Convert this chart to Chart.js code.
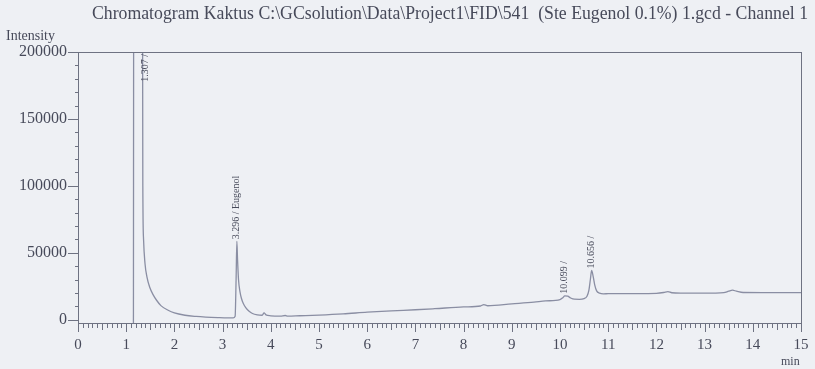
<!DOCTYPE html>
<html>
<head>
<meta charset="utf-8">
<script src="https://cdn.jsdelivr.net/npm/chart.js@4.4.0/dist/chart.umd.min.js"></script>
<style>
  body { margin: 0; background: #eef0f4; }
  #chart { display: block; }
</style>
</head>
<body>
<canvas id="chart" width="815" height="369"></canvas>
<script>
// retention time (min) and detector signal
const times = [
  1.15, 1.16, 1.33, 1.345, 1.36, 1.39, 1.43, 1.49, 1.56, 1.63, 1.72, 1.87, 2.0, 2.22, 2.45, 2.65, 2.9, 3.1, 3.22,
  3.26, 3.28, 3.296, 3.31, 3.33, 3.36, 3.39, 3.43, 3.48, 3.55, 3.62, 3.72, 3.82, 3.86, 3.9, 4.0, 4.2, 4.3, 4.35,
  4.6, 5.0, 5.5, 6.0, 6.5, 7.0, 7.4, 8.0, 8.35, 8.42, 8.5, 9.0, 9.46, 9.7, 10.0, 10.06, 10.099, 10.16, 10.22,
  10.3, 10.4, 10.5, 10.56, 10.6, 10.63, 10.656, 10.69, 10.72, 10.76, 10.82, 10.9, 11.0, 11.5, 12.0, 12.15,
  12.24, 12.32, 12.5, 13.0, 13.4, 13.5, 13.58, 13.66, 13.8, 14.2, 15.0
];
const intensity = [
  -2500, 420000, 420000, 100000, 60000, 42000, 32000, 24000, 18500, 14500, 10500, 7000, 5000, 3300, 2400, 1900, 1500, 1300, 1300,
  2500, 30000, 58500, 45000, 30000, 21000, 16000, 12000, 9000, 6300, 4600, 3600, 3300, 5000, 3600, 2900, 2600, 3100, 2600,
  2900, 3400, 4300, 5600, 6600, 7400, 8200, 9500, 10200, 11300, 10400, 11800, 13100, 14000, 15000, 16400, 17800, 17500, 16200,
  15300, 15200, 15700, 17500, 22000, 30000, 36800, 32000, 26000, 21500, 19800, 19300, 19400, 19500, 19700, 20300,
  21000, 20100, 19800, 19800, 20200, 21300, 22000, 21300, 20300, 20200, 20200
];

const xTicks = [0, 1, 2, 3, 4, 5, 6, 7, 8, 9, 10, 11, 12, 13, 14, 15];
const yTicks = [0, 50000, 100000, 150000, 200000];

const peakTimes = [1.307, 3.296, 10.099, 10.656];
const peakValues = [420000, 58500, 17800, 36800];
const peakNames = ['1.307 /', '3.296 / Eugenol', '10.099 /', '10.656 /'];

const titleText = 'Chromatogram Kaktus C:\\GCsolution\\Data\\Project1\\FID\\541  (Ste Eugenol 0.1%) 1.gcd - Channel 1';

const inkColor = '#474a5a';
const axisColor = '#6e7282';
const traceColor = '#8a8ea3';
const serif = "'Liberation Serif', 'DejaVu Serif', serif";

const chromPlugin = {
  id: 'chrom',
  afterDraw(chart) {
    const ctx = chart.ctx;
    const a = chart.chartArea;
    const xs = chart.scales.x;
    const ys = chart.scales.y;

    ctx.save();
    ctx.strokeStyle = axisColor;
    ctx.lineWidth = 1;
    ctx.strokeRect(Math.round(a.left) + 0.5, Math.round(a.top) + 0.5,
      Math.round(a.right - a.left), Math.round(a.bottom - a.top));

    ctx.beginPath();
    // intensity ticks, minor every 10000
    for (let v = 0; v <= 200000; v += 10000) {
      const py = Math.round(ys.getPixelForValue(v)) + 0.5;
      const len = v % 50000 === 0 ? 10 : 3;
      ctx.moveTo(a.left - len, py);
      ctx.lineTo(a.left, py);
    }
    // time ticks, minor every 0.1 min
    for (let i = 0; i <= 150; i++) {
      const px = Math.round(xs.getPixelForValue(i / 10)) + 0.5;
      const len = i % 10 === 0 ? 9 : (i % 5 === 0 ? 7 : 5);
      ctx.moveTo(px, a.bottom);
      ctx.lineTo(px, a.bottom + len);
    }
    ctx.stroke();

    ctx.fillStyle = inkColor;

    // title, squeezed like the printout
    ctx.font = '19px ' + serif;
    ctx.textBaseline = 'middle';
    ctx.textAlign = 'left';
    const w = ctx.measureText(titleText).width;
    ctx.save();
    ctx.translate(92, 14);
    ctx.scale(716 / w, 1);
    ctx.fillText(titleText, 0, 0);
    ctx.restore();

    ctx.font = '14px ' + serif;
    ctx.fillText('Intensity', 6, 36);
    ctx.font = '12px ' + serif;
    ctx.fillText('min', 781, 362);

    // peak labels, vertical
    ctx.font = '10px ' + serif;
    peakTimes.forEach((t, i) => {
      const px = xs.getPixelForValue(t);
      ctx.save();
      if (peakValues[i] > ys.max) {
        ctx.translate(px + 4, a.top + 2);
        ctx.rotate(-Math.PI / 2);
        ctx.textAlign = 'right';
      } else {
        ctx.translate(px, ys.getPixelForValue(peakValues[i]) - 2);
        ctx.rotate(-Math.PI / 2);
        ctx.textAlign = 'left';
      }
      ctx.textBaseline = 'middle';
      ctx.fillText(peakNames[i], 0, 0);
      ctx.restore();
    });
    ctx.restore();
  }
};

new Chart(document.getElementById('chart'), {
  type: 'line',
  data: {
    datasets: [{
      data: times.map((t, i) => ({ x: t, y: intensity[i] })),
      borderColor: traceColor,
      borderWidth: 1.3,
      pointRadius: 0,
      cubicInterpolationMode: 'monotone',
      fill: false,
    }],
  },
  options: {
    responsive: false,
    animation: false,
    devicePixelRatio: 1,
    layout: { padding: { top: 52, right: 14, left: 0, bottom: 0 } },
    plugins: { legend: { display: false }, tooltip: { enabled: false } },
    scales: {
      x: {
        type: 'linear',
        min: 0,
        max: 15,
        grid: { display: false, drawTicks: false },
        border: { display: false },
        afterBuildTicks: s => { s.ticks = xTicks.map(v => ({ value: v })); },
        afterFit: s => { s.height = 46; },
        ticks: {
          autoSkip: false,
          maxRotation: 0,
          padding: 0,
          color: inkColor,
          font: { family: serif, size: 15, lineHeight: 3 },
        },
      },
      y: {
        min: -2500,
        max: 200000,
        grid: { display: false, drawTicks: false },
        border: { display: false },
        afterBuildTicks: s => { s.ticks = yTicks.map(v => ({ value: v })); },
        afterFit: s => { s.width = 78; },
        ticks: {
          autoSkip: false,
          padding: 11,
          color: inkColor,
          font: { family: serif, size: 16 },
          callback: v => String(v),
        },
      },
    },
  },
  plugins: [chromPlugin],
});
</script>
</body>
</html>
